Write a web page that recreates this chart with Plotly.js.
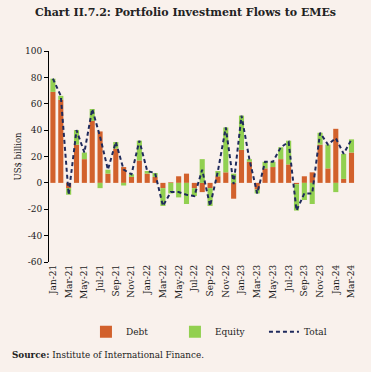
<!DOCTYPE html>
<html>
<head>
<meta charset="utf-8">
<script src="https://cdn.plot.ly/plotly-3.0.1.min.js"></script>
<style>
  html, body { margin: 0; padding: 0; background: #F9F1EC; }
  #chart { width: 371px; height: 372px; outline: 1px solid #3a3a3a; outline-offset: -1px; }
</style>
</head>
<body>
<div id="chart"></div>
<script>
const months = ["Jan-21","Feb-21","Mar-21","Apr-21","May-21","Jun-21","Jul-21","Aug-21","Sep-21","Oct-21","Nov-21","Dec-21",
                "Jan-22","Feb-22","Mar-22","Apr-22","May-22","Jun-22","Jul-22","Aug-22","Sep-22","Oct-22","Nov-22","Dec-22",
                "Jan-23","Feb-23","Mar-23","Apr-23","May-23","Jun-23","Jul-23","Aug-23","Sep-23","Oct-23","Nov-23","Dec-23",
                "Jan-24","Feb-24","Mar-24"];
const debt   = [69, 63, -4, 29, 18, 47, 39, 7, 26, 12, 4.5, 17,
                7, 4.5, -4, 0.5, 5, 7, -4, -7, -4, 5, 8, -12,
                25, 16, -5, 11, 12, 18, 14, -1, 5, 8, 29, 11,
                41, 3, 23];
const equity = [10, 3, -5, 11, 5, 9, -4, 3, 5, -2, 2, 15,
                2, 3, -13.5, -8, -11, -16, -6, 18, -13.5, 4, 34, 7,
                26, 2, -3, 5, 4, 9, 18, -20, -13, -16, 9, 18,
                -7, 19, 10];
const total  = [79, 66, -9, 40, 23, 56, 35, 10, 31, 10, 6.5, 32,
                9, 7.5, -17.5, -7, -7, -9, -10, 10, -17.5, 9, 42, -1,
                51, 18, -8, 16, 16, 27, 31, -21, -8, -8, 38, 29,
                34, 22, 33];
const yTicks = [-60, -40, -20, 0, 20, 40, 60, 80, 100];
const yTickText = ["-60", "-40", "-20", "0", "20", "40", "60", "80", "100"];

const serif = "DejaVu Serif, Liberation Serif, serif";

const traces = [
  { type: "bar", name: "Debt", x: months, y: debt, marker: { color: "#D2612C" } },
  { type: "bar", name: "Equity", x: months, y: equity, marker: { color: "#92D050" } },
  { type: "scatter", mode: "lines", name: "Total", x: months, y: total,
    line: { color: "#1F2A5C", width: 2, dash: "4px,3px" } }
];

const layout = {
  width: 371, height: 372,
  paper_bgcolor: "#F9F1EC", plot_bgcolor: "#F9F1EC",
  margin: { l: 49, r: 14, t: 51, b: 110 },
  barmode: "relative", bargap: 0.35,
  font: { family: serif, size: 9, color: "#222" },
  title: { text: "<b>Chart II.7.2: Portfolio Investment Flows to EMEs</b>",
           font: { family: serif, size: 11, color: "#222" },
           x: 0.5, xanchor: "center", y: 0.966, yanchor: "middle", yref: "container" },
  xaxis: { type: "category", range: [-0.5, 38.7], dtick: 2, tick0: 0,
           tickangle: -90, ticks: "", showline: false, showgrid: false, zeroline: false,
           tickfont: { family: serif, size: 9, color: "#222" }, fixedrange: true },
  xaxis2: { overlaying: "x", anchor: "free", position: 0.375, range: [-0.5, 38.7],
            tick0: 1.5, dtick: 2, ticks: "outside", ticklen: 4, tickcolor: "#000",
            showline: true, linecolor: "#000", linewidth: 1,
            showticklabels: false, showgrid: false, zeroline: false },
  yaxis: { range: [-60, 100], tickvals: yTicks, ticktext: yTickText, ticks: "outside", ticklen: 4, tickcolor: "#000",
           showline: true, linecolor: "#000", linewidth: 1, showgrid: false, zeroline: false,
           tickfont: { family: serif, size: 9, color: "#222" },
           title: { text: "US$ billion", font: { family: serif, size: 8.5, color: "#222" }, standoff: 2 } },
  showlegend: true,
  legend: { orientation: "h", x: 0.12, xanchor: "left", y: -0.33, yanchor: "middle",
            font: { family: serif, size: 9, color: "#222" }, bgcolor: "rgba(0,0,0,0)",
            itemwidth: 30, entrywidth: 44, entrywidthmode: "pixels", traceorder: "normal" },
  annotations: [
    { text: "<b>Source:</b> Institute of International Finance.", xref: "paper", yref: "paper",
      x: -0.127, y: -0.44, xanchor: "left", yanchor: "middle", showarrow: false,
      font: { family: serif, size: 8.8, color: "#222" } }
  ]
};

Plotly.newPlot("chart", traces, layout, { displayModeBar: false, staticPlot: true });
</script>
</body>
</html>
